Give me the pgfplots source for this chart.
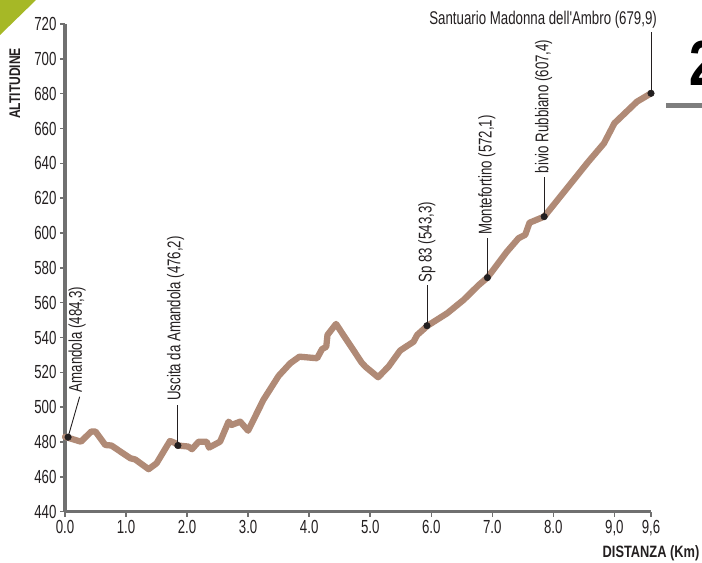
\documentclass[border=0pt]{standalone}
\usepackage{pgfplots}
\pgfplotsset{compat=1.18}
\usepackage{fontspec}
\setmainfont{Liberation Sans}[FakeStretch=0.78]
\newfontfamily\narrowfont{Liberation Sans}[FakeStretch=0.70]
\newfontfamily\labfont{Liberation Sans}[FakeStretch=0.72]
\definecolor{axgray}{RGB}{112,112,112}
\definecolor{route}{RGB}{176,138,118}
\definecolor{leaf}{RGB}{166,184,38}
\definecolor{ink}{RGB}{35,31,32}
\begin{document}
\begin{tikzpicture}
\path[use as bounding box, clip] (0bp,0bp) rectangle (702bp,563bp);
\fill[leaf] (0bp,563bp) -- (36bp,563bp) -- (0bp,528bp) -- cycle;
\node[anchor=west, inner sep=0pt, font=\fontsize{64}{64}\selectfont\bfseries, text=black] at (689bp,500bp) {2};
\draw[line width=5bp, color=axgray!90] (666bp,457bp) -- (710bp,457bp);
\node[rotate=90, font=\fontsize{15.5}{15.5}\selectfont\bfseries, text=ink] at (15bp,479.5bp) {ALTITUDINE};
\node[font=\fontsize{16.5}{16.5}\selectfont\bfseries, text=ink] at (651bp,10bp) {DISTANZA (Km)};
\begin{axis}[
  at={(65bp,51.3bp)}, anchor=south west,
  scale only axis, width=586bp, height=487.7bp,
  xmin=0, xmax=9.6, ymin=440, ymax=720,
  axis x line=bottom, axis y line=left,
  axis line style={-, draw=axgray, line width=3bp},
  tick style={draw=axgray, line width=1.5bp},
  major tick length=5bp, tick align=outside,
  xtick={0,1,2,3,4,5,6,7,8,9,9.6},
  xticklabels={0.0,1.0,2.0,3.0,4.0,5.0,6.0,7.0,8.0,{9,0},{9,6}},
  ytick={440,460,...,720},
  /pgf/number format/assume math mode=true,
  ticklabel style={font=\narrowfont\fontsize{19}{19}\selectfont, text=ink},
  clip=false,
]
\addplot[route, line width=6.3bp, line join=round, line cap=round] table {
0.00 483
0.26 480.2
0.43 486
0.50 486
0.66 478.3
0.76 478
1.07 470.7
1.15 470
1.37 464.4
1.50 467.8
1.72 480.6
1.80 479.5
1.85 478
2.02 477.4
2.08 475.9
2.19 480.2
2.32 480.2
2.36 476.8
2.54 480.2
2.68 491.7
2.73 489.8
2.87 491.7
3.00 486.5
3.25 504.2
3.50 518
3.69 525.2
3.84 529
4.13 528.1
4.21 533.3
4.28 534.7
4.30 541.5
4.44 547.8
4.86 525.6
4.92 523.3
5.13 517.2
5.30 523.3
5.49 532.5
5.71 537.6
5.77 541.5
5.94 546.8
6.26 553.9
6.53 561.6
6.78 570.2
6.92 574.4
7.24 589.3
7.43 597
7.54 599
7.61 605.9
7.85 609.4
8.57 640.8
8.83 651.5
9.00 663
9.37 675.4
9.60 680.2
};
% leader lines
\draw[ink, line width=0.9bp] (axis cs:0.24,506) -- (axis cs:0.05,482.8);
\draw[ink, line width=0.9bp] (axis cs:1.85,501) -- (axis cs:1.85,478);
\draw[ink, line width=0.9bp] (axis cs:5.93,570) -- (axis cs:5.93,546.8);
\draw[ink, line width=0.9bp] (axis cs:6.92,597) -- (axis cs:6.92,574.4);
\draw[ink, line width=0.9bp] (axis cs:7.85,632) -- (axis cs:7.85,609.4);
\draw[ink, line width=0.9bp] (axis cs:9.6,715.4) -- (axis cs:9.6,680.2);
\addplot[only marks, mark=*, mark size=3.3bp, color=ink] coordinates {
(0.05,482.8) (1.85,478) (5.93,546.8) (6.92,574.4) (7.85,609.4) (9.6,680.2)
};
% labels
\node[rotate=90, anchor=west, inner sep=0pt, font=\labfont\fontsize{18.5}{18.5}\selectfont, text=ink] at (axis cs:0.20,508.5) {Amandola (484,3)};
\node[rotate=90, anchor=west, inner sep=0pt, font=\labfont\fontsize{18.5}{18.5}\selectfont, text=ink] at (axis cs:1.81,503.6) {Uscita da Amandola (476,2)};
\node[rotate=90, anchor=west, inner sep=0pt, font=\labfont\fontsize{18.5}{18.5}\selectfont, text=ink] at (axis cs:5.93,571.5) {Sp 83 (543,3)};
\node[rotate=90, anchor=west, inner sep=0pt, font=\labfont\fontsize{18.5}{18.5}\selectfont, text=ink] at (axis cs:6.91,598.9) {Montefortino (572,1)};
\node[rotate=90, anchor=west, inner sep=0pt, font=\labfont\fontsize{18.5}{18.5}\selectfont, text=ink] at (axis cs:7.84,634.3) {bivio Rubbiano (607,4)};
\node[anchor=east, inner sep=0pt, font=\labfont\fontsize{18.5}{18.5}\selectfont, text=ink] at (axis cs:9.70,722.3) {Santuario Madonna dell'Ambro (679,9)};
\end{axis}
\end{tikzpicture}
\end{document}
